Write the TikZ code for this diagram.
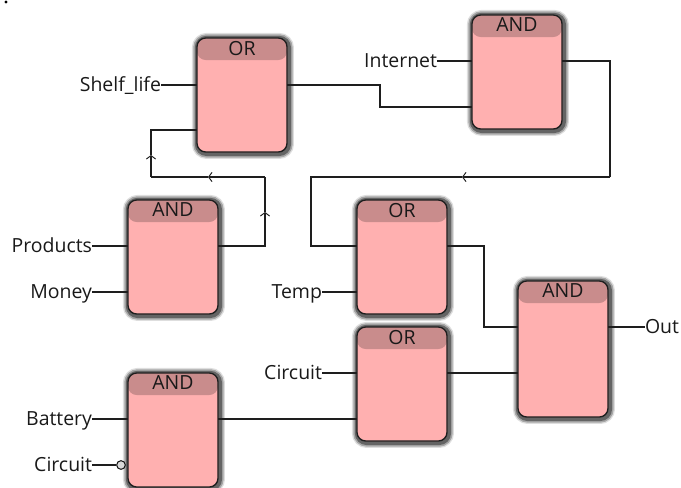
\documentclass[tikz,border=0pt]{standalone}
\usepackage{fontspec}
\setmainfont{Open Sans}
\usetikzlibrary{arrows.meta}
\definecolor{gatebody}{HTML}{FFB0B0}
\definecolor{gatehead}{HTML}{C98C8C}
\definecolor{wirecol}{HTML}{1E1E1E}

\tikzset{
  gate/.style={rectangle, rounded corners=6.5pt, inner sep=0pt, outer sep=0pt,
    minimum width=67.5pt, minimum height=85.5pt, draw=wirecol, line width=1pt, fill=gatebody,
    preaction={draw=black, fill=none, opacity=.13, line width=9pt, transform canvas={shift={(.7pt,-.7pt)}}},
    preaction={draw=black, fill=none, opacity=.25, line width=7pt, transform canvas={shift={(.7pt,-.7pt)}}},
    preaction={draw=black, fill=none, opacity=.40, line width=4.6pt, transform canvas={shift={(.7pt,-.7pt)}}},
    path picture={\fill[gatehead] (path picture bounding box.north west) rectangle
      ([yshift=-16.5pt]path picture bounding box.north east);}},
  tallgate/.style={gate, minimum height=102pt},
  gatename/.style={anchor=north, inner sep=0pt, yshift=-2pt, text=black!90, font=\fontsize{14.6}{16}\selectfont},
  pinlabel/.style={inner sep=0pt, outer sep=0pt, yshift=-3pt, text=black!90, font=\fontsize{14.6}{16}\selectfont},
  wire/.style={draw=wirecol, line width=.95pt},
  flow/.style={wire, -{Straight Barb[length=2.6pt, width=7pt, line width=.7pt]}},
  negpin/.style={circle, draw=wirecol, fill=white!85!black, line width=.8pt, minimum size=6.5pt, inner sep=0pt}
}

\begin{document}
\begin{tikzpicture}[x=.75pt, y=-.75pt]
\useasboundingbox (0,0) rectangle (681,487);

% gates
\node[gate, label={[gatename]north:OR}] (orshelf) at (242,95) {};
\node[gate, label={[gatename]north:AND}] (andnet) at (517,72) {};
\node[gate, label={[gatename]north:AND}] (andprod) at (173,257) {};
\node[gate, label={[gatename]north:OR}] (ortemp) at (402,257) {};
\node[gate, label={[gatename]north:OR}] (orcirc) at (402,384) {};
\node[tallgate, label={[gatename]north:AND}] (andout) at (563,349) {};
\node[gate, label={[gatename]north:AND}] (andbat) at (173,430) {};

% stray dot, top left
\node[circle, fill=black, minimum size=2.5pt, inner sep=0pt] (dot) at (6,2) {};

% pin labels
\node[pinlabel, anchor=mid east] (shelf) at (161,84) {Shelf\_life};
\node[pinlabel, anchor=mid east] (internet) at (437,60) {Internet};
\node[pinlabel, anchor=mid east] (products) at (92,245) {Products};
\node[pinlabel, anchor=mid east] (money) at (92,291) {Money};
\node[pinlabel, anchor=mid east] (temp) at (322,291) {Temp};
\node[pinlabel, anchor=mid east] (circuita) at (322,372) {Circuit};
\node[pinlabel, anchor=mid east] (battery) at (92,418) {Battery};
\node[pinlabel, anchor=mid east] (circuitb) at (92,464) {Circuit};
\node[pinlabel, anchor=mid west] (out) at (645,326) {Out};
\node[negpin] (neg) at (121,465) {};

% input wires
\coordinate (pshelf) at (161,85);
\coordinate (pnet) at (437,61);
\coordinate (pprod) at (92,246);
\coordinate (pmoney) at (92,292);
\coordinate (ptemp) at (322,292);
\coordinate (pcirca) at (322,373);
\coordinate (pbat) at (92,419);
\coordinate (pcircb) at (92,465);
\coordinate (pout) at (645,327);
\draw[wire] (pshelf) -- (pshelf -| orshelf.west);
\draw[wire] (pnet) -- (pnet -| andnet.west);
\draw[wire] (pprod) -- (pprod -| andprod.west);
\draw[wire] (pmoney) -- (pmoney -| andprod.west);
\draw[wire] (ptemp) -- (ptemp -| ortemp.west);
\draw[wire] (pcirca) -- (pcirca -| orcirc.west);
\draw[wire] (pbat) -- (pbat -| andbat.west);
\draw[wire] (pcircb) -- (neg.west);
\draw[wire] (pout -| andout.east) -- (pout);

% joins between gates
\coordinate (a1) at (orshelf.east |- pshelf);
\coordinate (a2) at (andnet.west |- 0,107);
\draw[wire] (a1) -- (380,85) -- (380,107) -- (a2);

\coordinate (b1) at (andprod.east |- pprod);
\coordinate (b2) at (265,177);
\coordinate (b3) at (151,177);
\coordinate (b4) at (orshelf.west |- 0,130);
\coordinate (tb1) at (265,212);
\coordinate (tb2) at (208,177);
\coordinate (tb3) at (151,155);
\draw[flow] (b1) -| (tb1);
\draw[wire] (tb1) -- (b2);
\draw[flow] (b2) -- (tb2);
\draw[wire] (tb2) -- (b3);
\draw[flow] (b3) -- (tb3);
\draw[wire] (tb3) |- (b4);

\coordinate (c1) at (andnet.east |- pnet);
\coordinate (c2) at (610,177);
\coordinate (tc) at (462,177);
\coordinate (c3) at (311,177);
\coordinate (c4) at (ortemp.west |- pprod);
\draw[wire] (c1) -| (c2);
\draw[flow] (c2) -- (tc);
\draw[wire] (tc) -- (c3) |- (c4);

\coordinate (d1) at (ortemp.east |- pprod);
\coordinate (d2) at (andout.west |- pout);
\draw[wire] (d1) -- (484,246) -- (484,327) -- (d2);

\draw[wire] (orcirc.east |- pcirca) -- (andout.west |- pcirca);
\draw[wire] (andbat.east |- pbat) -- (orcirc.west |- pbat);
\end{tikzpicture}
\end{document}
